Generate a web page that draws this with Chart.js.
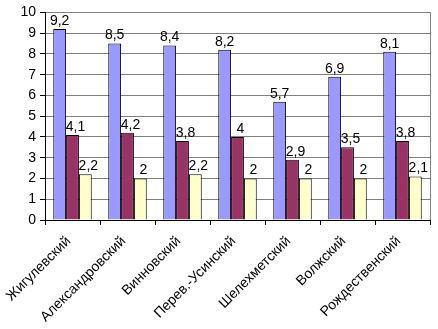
<!DOCTYPE html>
<html>
<head>
<meta charset="utf-8">
<script src="https://cdn.jsdelivr.net/npm/chart.js@4"></script>
<style>
  html, body { margin: 0; padding: 0; background: #fff; }
  #wrap { width: 438px; height: 329px; }
</style>
</head>
<body>
<div id="wrap"><canvas id="myChart" width="438" height="329"></canvas></div>
<script>
const categories = ["Жигулевский", "Александровский", "Винновский", "Перев.-Усинский", "Шелехметский", "Волжский", "Рождественский"];
const series1 = [9.2, 8.5, 8.4, 8.2, 5.7, 6.9, 8.1];
const series2 = [4.1, 4.2, 3.8, 4, 2.9, 3.5, 3.8];
const series3 = [2.2, 2, 2.2, 2, 2, 2, 2.1];
const yTicks = [0, 1, 2, 3, 4, 5, 6, 7, 8, 9, 10];

const FONT = "'Liberation Sans', Arial, sans-serif";

// подписи значений над столбиками
const valueLabels = {
  id: "valueLabels",
  afterDatasetsDraw(chart) {
    const ctx = chart.ctx;
    ctx.save();
    ctx.font = "14px " + FONT;
    ctx.fillStyle = "#000";
    ctx.textAlign = "center";
    ctx.textBaseline = "bottom";
    chart.data.datasets.forEach((ds, i) => {
      chart.getDatasetMeta(i).data.forEach((bar, j) => {
        const txt = String(ds.data[j]).replace(".", ",");
        ctx.fillText(txt, bar.x + (i === 0 ? 0 : 3), bar.y - 1);
      });
    });
    ctx.restore();
  },
};

// серая рамка справа
const rightBorder = {
  id: "rightBorder",
  beforeDatasetsDraw(chart) {
    const a = chart.chartArea;
    const ctx = chart.ctx;
    ctx.save();
    ctx.strokeStyle = "#808080";
    ctx.lineWidth = 1;
    ctx.beginPath();
    ctx.moveTo(Math.round(a.right) + 0.5, a.top);
    ctx.lineTo(Math.round(a.right) + 0.5, a.bottom);
    ctx.stroke();
    ctx.restore();
  },
};

const ctx = document.getElementById("myChart").getContext("2d");
new Chart(ctx, {
  type: "bar",
  data: {
    labels: categories,
    datasets: [
      { data: series1, backgroundColor: "#9999FF", borderColor: "#000", borderWidth: 1 },
      { data: series2, backgroundColor: "#993366", borderColor: "#000", borderWidth: 1 },
      { data: series3, backgroundColor: "#FFFFCC", borderColor: "#000", borderWidth: 1 },
    ],
  },
  options: {
    responsive: false,
    animation: false,
    layout: { padding: { top: 5, right: 8, left: 0, bottom: 0 } },
    datasets: { bar: { categoryPercentage: 0.7, barPercentage: 1.0 } },
    plugins: { legend: { display: false }, tooltip: { enabled: false } },
    scales: {
      x: {
        afterFit(axis) { axis.height = 109; },
        grid: { drawOnChartArea: false, color: "#000", tickLength: 5, offset: true },
        border: { color: "#000" },
        ticks: {
          color: "#000",
          font: { family: FONT, size: 14 },
          maxRotation: 45,
          minRotation: 45,
          padding: 8,
          labelOffset: -4,
        },
      },
      y: {
        min: 0,
        max: 10,
        afterFit(axis) { axis.width = 45; },
        afterBuildTicks(axis) { axis.ticks = yTicks.map((v) => ({ value: v })); },
        grid: { color: "#808080", tickLength: 5, tickColor: "#000" },
        border: { color: "#000" },
        ticks: {
          color: "#000",
          font: { family: FONT, size: 14 },
          padding: 4,
        },
      },
    },
  },
  plugins: [valueLabels, rightBorder],
});
</script>
</body>
</html>
